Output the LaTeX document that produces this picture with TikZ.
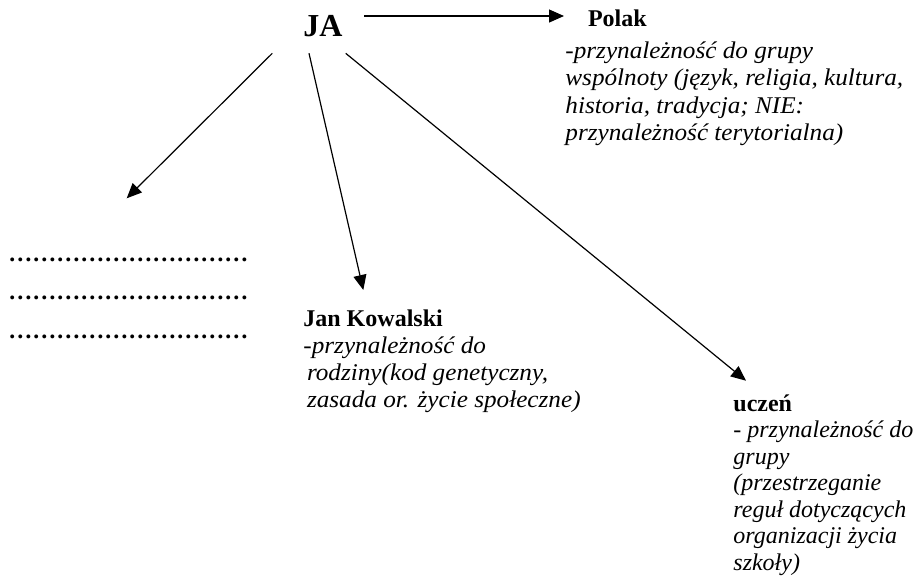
\documentclass[tikz,border=0pt]{standalone}
\usepackage{fontspec}
\setmainfont{Liberation Serif}
\newfontface\itwide[FakeStretch=1.05]{Liberation Serif Italic}
\usetikzlibrary{arrows.meta}
\begin{document}
\begin{tikzpicture}[x=0.5pt,y=-0.5pt,
  arr/.style={line width=0.6pt, -{Triangle[length=7.5pt,width=6.5pt]}},
  blk/.style={anchor=base west, inner sep=0pt, font=\fontsize{12}{13.8}\selectfont}]
\useasboundingbox (0,0) rectangle (914,579);
% main node
\node[anchor=base west, inner sep=0pt, font=\fontsize{16}{18}\selectfont] (ja) at (303,36) {\textbf{JA}};
% Polak
\node[blk] (polak) at (565,26) {\begin{tabular}[t]{@{}l@{}}
\hspace*{11.3pt}\textbf{Polak}\\[2.2pt]
{\itwide -przynależność do grupy}\\
{\itwide wspólnoty (język, religia, kultura,}\\
{\itwide historia, tradycja; NIE:}\\
{\itwide przynależność terytorialna)}
\end{tabular}};
% Jan Kowalski
\node[blk, font=\fontsize{12}{13.5}\selectfont] (jan) at (303,326.5) {\begin{tabular}[t]{@{}l@{}}
\textbf{Jan Kowalski}\\
{\itwide -przynależność do}\\
\hspace*{1.8pt}{\itwide rodziny(kod genetyczny,}\\
\hspace*{1.8pt}{\itwide zasada or. życie społeczne)}
\end{tabular}};
% uczen
\node[blk, font=\fontsize{12}{13.25}\selectfont] (uczen) at (733,411) {\begin{tabular}[t]{@{}l@{}}
\textbf{uczeń}\\
\textit{- przynależność do}\\
\textit{grupy}\\
\textit{(przestrzeganie}\\
\textit{reguł dotyczących}\\
\textit{organizacji życia}\\
\textit{szkoły)}
\end{tabular}};
% dotted lines
\node[anchor=base west, inner sep=0pt, font=\fontsize{12}{19.3}\selectfont\bfseries] (dots) at (8,261) {\begin{tabular}[t]{@{}l@{}}
…………………………\\
…………………………\\
…………………………
\end{tabular}};
% connector ends
\coordinate (jaR) at (364,16);
\coordinate (polakIn) at (564,16);
\coordinate (jaL) at (272.3,53.3);
\coordinate (dotsIn) at (126.7,198.3);
\coordinate (jaM) at (309,53.3);
\coordinate (janIn) at (363.3,290);
\coordinate (jaD) at (345.7,53.3);
\coordinate (uczenIn) at (746,380.7);
\draw[arr] (jaR) -- (polakIn);
\draw[arr] (jaL) -- (dotsIn);
\draw[arr] (jaM) -- (janIn);
\draw[arr] (jaD) -- (uczenIn);
\end{tikzpicture}
\end{document}
